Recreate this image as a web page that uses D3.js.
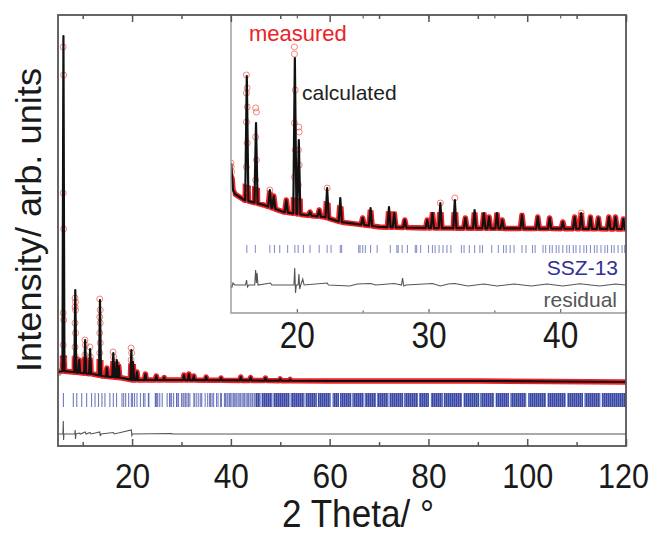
<!DOCTYPE html>
<html><head><meta charset="utf-8">
<script src="https://cdn.jsdelivr.net/npm/d3@7"></script>
<style>
html,body{margin:0;padding:0;background:#fff;}
svg{display:block;font-family:"Liberation Sans",Arial,sans-serif;}
</style></head><body>
<svg id="chart" width="657" height="534"></svg>
<script>
// ---------- DATA ----------
const mainTicksMajor = [20, 40, 60, 80, 100, 120];
const mainTicksMinor = [10, 30, 50, 70, 90, 110];
const insetTicksMajor = [20, 30, 40];
const insetTicksMinor = [25, 35, 45];

// main pattern (2theta, counts)
const mainBackground = [[5,1480],[6,1500],[8,1480],[10,1460],[12,1440],[14,1400],[16,1380],[18,1360],[20,1320],[30,1320],[60,1300],[90,1300],[120,1280]];
const mainCalcPeaks = [[6.1,8200],[8.5,3120],[9.3,1720],[10.5,2120],[11.5,1940],[13.5,2920],[14.9,1560],[16.2,1860],[16.9,1720],[17.3,1600],[19.85,1920],[20.2,1680],[21.0,1480],[22.7,1440],[24.9,1400],[26.5,1370],[30.5,1420],[31.5,1440],[32.5,1400],[35,1380],[38,1360],[42,1380],[44,1370],[47,1360],[50,1340],[52,1330]];
const mainObsPoints = [[5.0,1500],[5.05,1460],
  [6.05,7980],[6.15,7420],[6.05,5060],[6.15,4340],[6.05,2660],[6.15,2520],[6.05,2020],[6.15,1720],
  [8.45,2960],[8.55,2880],[8.45,2780],[8.55,2720],[8.45,2460],[8.55,2260],[8.45,1980],[8.55,1780],
  [10.45,2120],[10.55,2020],[10.45,1820],[11.45,1980],[11.55,1780],
  [13.45,2940],[13.55,2720],[13.45,2580],[13.55,2460],[13.45,2260],[13.55,2060],[13.45,1860],
  [16.15,1880],[16.25,1780],[19.8,1960],[19.9,1860],[19.8,1720]];
const mainResidual = [[5,0],[6.0,0],[6.07,260],[6.13,-120],[6.2,0],[8.4,0],[8.47,80],[8.55,-100],[8.65,0],[9.3,20],[9.5,0],[10.5,40],[10.7,0],[11.5,30],[11.7,0],[13.45,40],[13.55,-40],[13.7,0],[16.2,30],[16.4,0],[19.85,80],[19.95,-30],[20.1,0],[28,10],[28.2,0],[120,0]];
const mainBraggLow = [6.1,8.1,8.8,9.8,10.8,11.8,12.5,13.2,13.9,14.5,15.5];
const braggPositions = [16.2,16.85,17.95,18.3,18.7,19.3,19.85,20.1,20.5,21.0,21.7,22.3,22.6,23.3,23.4,24.7,24.8,25.0,25.2,25.6,26.1,27.1,27.6,27.7,28.0,28.4,29.0,29.1,29.4,30.0,30.3,30.5,30.8,31.1,31.4,31.7,32.5,32.7,33.1,33.5,33.9,34.1,34.8,35.3,35.7,35.9,36.2,36.5,37.1,37.4,37.9,38.1,38.7,38.9,39.2,39.4,39.7,39.9,40.2,40.5,40.7,41.0,41.2,41.5,41.8,42.0,42.3,42.6,42.8,43.1,43.4,43.6,43.9,44.1,44.4,44.7,44.9];
const mainBraggBands = [[45,46],[46.2,48.4],[48.6,51.9],[52.1,54.9],[55.1,57.4],[57.6,60.2],[60.6,61.9],[62.1,64.4],[64.6,66.9],[67.1,69.4],[69.6,71.9],[72.1,74.9],[75.1,77.9],[78.1,80.1],[80.5,82.9],[83.1,86.8],[87.1,90.3],[90.5,93.3],[93.6,96.3],[96.6,99.8],[100.2,103.8],[104.1,107.8],[108.1,111.3],[111.6,114.8],[115.1,120]];

// inset pattern (2theta, counts)
const insetBackground = [[15.0,1500],[15.15,1230],[15.3,1190],[16.0,1130],[17.5,1080],[19.0,1010],[20.6,980],[22.1,960],[23.3,910],[26.3,860],[30,850],[45,840]];
const insetCalcPeaks = [[16.2,2370],[16.9,1900],[17.95,1230],[18.25,1170],[19.2,1130],[19.85,2550],[20.15,1730],[21.0,1010],[21.7,1030],[22.3,1250],[23.3,1150],[25.0,950],[25.6,1050],[27.0,1060],[27.4,1000],[28.2,930],[29.9,930],[30.3,1000],[30.9,1100],[32.0,1130],[32.8,950],[33.5,1030],[34.2,1000],[34.6,960],[35.2,1000],[35.6,930],[37.1,980],[38.3,960],[39.2,950],[40.2,910],[41.1,960],[41.6,1000],[42.3,960],[42.9,950],[43.7,960],[44.2,960],[44.8,940]];
const insetObsPoints = [[15.0,1500],[15.02,1460],[15.04,1410],
  [16.17,2380],[16.23,2250],[16.17,2200],[16.23,2060],[16.17,1910],[16.23,1700],[16.17,1460],[16.23,1230],
  [16.87,2050],[16.93,2010],[16.87,1760],[16.93,1530],[16.87,1330],
  [19.82,2660],[19.82,2590],[19.88,2230],[19.82,1900],[19.88,1630],[19.82,1360],
  [20.15,1860],[20.18,1810],[20.12,1630],[20.18,1480],[20.12,1280],
  [22.3,1250],[17.95,1230],[30.9,1100],[32.0,1150],[41.6,1000]];
const insetResidual = [[15,0],[15.05,-30],[15.15,20],[15.3,0],[16.1,0],[16.18,50],[16.25,-20],[16.35,0],[16.8,0],[16.87,150],[16.93,20],[16.98,120],[17.05,0],[18.0,20],[18.1,0],[19.78,0],[19.84,170],[19.9,-80],[19.96,0],[20.1,0],[20.16,110],[20.22,-40],[20.3,0],[20.45,60],[20.55,0],[22.3,20],[22.4,0],[24.0,-10],[24.6,10],[25.6,15],[26.0,0],[27.4,15],[27.95,0],[28.03,70],[28.12,-10],[28.3,0],[30.3,15],[30.9,-10],[31.5,10],[32.0,15],[33.0,-10],[34.2,10],[35.2,-10],[36.5,10],[37.8,-10],[39.0,10],[40.2,-10],[41.5,12],[42.3,0],[43.0,-10],[44.2,10],[45,0]];

// ---------- LAYOUT ----------
const svg = d3.select('#chart');
const M = {l:58, r:626, t:15, b:446};
const N = {l:231, r:626, t:15, b:313};
const xM = d3.scaleLinear().domain([5,120]).range([M.l,M.r]);
const yM = d3.scaleLinear().domain([0,8620]).range([M.b,M.t]);
const xI = d3.scaleLinear().domain([15,45]).range([N.l,N.r]);
const yI = d3.scaleLinear().domain([0,2980]).range([N.b,N.t]);

const RED = '#ec2227', CIRC = '#ef6a5e', BLUE = '#3a49a5', CALC = '#111';
const NARROW = '"Liberation Sans Narrow","Liberation Sans",Arial,sans-serif';

function baseAt(base, t){
  const bx = base.map(d=>d[0]);
  const i = d3.bisectRight(bx, t);
  if (i<=0) return base[0][1];
  if (i>=base.length) return base[base.length-1][1];
  const a = base[i-1], b = base[i];
  return a[1] + (t-a[0])/(b[0]-a[0])*(b[1]-a[1]);
}
function profile(base, peaks, hw){
  let pts = base.filter(d => !peaks.some(p => Math.abs(d[0]-p[0]) < hw));
  peaks.forEach(p => {
    pts.push([p[0]-hw, baseAt(base,p[0]-hw)]);
    pts.push([p[0], p[1]]);
    pts.push([p[0]+hw, baseAt(base,p[0]+hw)]);
  });
  return pts.sort((a,b)=>a[0]-b[0]);
}

const defs = svg.append('defs');
const pat = defs.append('pattern').attr('id','stripes').attr('patternUnits','userSpaceOnUse')
  .attr('width',2).attr('height',20);
pat.append('rect').attr('width',2).attr('height',20).attr('fill','#7f89c6');
pat.append('rect').attr('width',1.3).attr('height',20).attr('fill',BLUE);

function drawPanel(g, x, y, box, base, peaks, hw, obs, resid, residLevel, braggs, braggY0, braggY1, bands, id, tickOpacity){
  defs.append('clipPath').attr('id','clip'+id).append('rect')
    .attr('x',box.l).attr('y',box.t).attr('width',box.r-box.l).attr('height',box.b-box.t);
  const inner = g.append('g').attr('clip-path','url(#clip'+id+')');
  inner.append('g').selectAll('line').data(braggs).join('line')
    .attr('x1',d=>x(d)).attr('x2',d=>x(d)).attr('y1',y(braggY0)).attr('y2',y(braggY1))
    .attr('stroke',BLUE).attr('stroke-width',1.1).attr('stroke-opacity',tickOpacity);
  if (bands) inner.append('g').selectAll('rect').data(bands).join('rect')
    .attr('x',d=>x(d[0])).attr('width',d=>x(d[1])-x(d[0])).attr('y',y(braggY0)).attr('height',y(braggY1)-y(braggY0))
    .attr('fill','url(#stripes)');
  inner.append('path').datum(resid)
    .attr('d', d3.line().x(d=>x(d[0])).y(d=>y(residLevel+d[1])))
    .attr('fill','none').attr('stroke','#555').attr('stroke-width',1.1);
  const pts = profile(base, peaks, hw);
  defs.append('clipPath').attr('id','band'+id).append('path')
    .attr('d', d3.area().x(d=>x(d[0])).y0(d=>y(d[1])+8).y1(d=>y(d[1])-16)(base));
  inner.append('g').attr('clip-path','url(#band'+id+')').append('path').datum(pts)
    .attr('d', d3.line().x(d=>x(d[0])).y(d=>y(d[1])))
    .attr('fill','none').attr('stroke',RED).attr('stroke-width',5.5).attr('stroke-linejoin','round');
  inner.append('g').selectAll('circle').data(obs).join('circle')
    .attr('cx',d=>x(d[0])).attr('cy',d=>y(d[1])).attr('r',3)
    .attr('fill','none').attr('stroke',CIRC).attr('stroke-width',1).attr('stroke-opacity',0.8);
  inner.append('path').datum(pts)
    .attr('d', d3.line().x(d=>x(d[0])).y(d=>y(d[1])))
    .attr('fill','none').attr('stroke',CALC).attr('stroke-width',2.2).attr('stroke-linejoin','round');
}

// ---------- MAIN ----------
const gMain = svg.append('g');
gMain.append('rect').attr('x',M.l).attr('y',M.t).attr('width',M.r-M.l).attr('height',M.b-M.t).attr('fill','#fff');
drawPanel(gMain, xM, yM, M, mainBackground, mainCalcPeaks, 0.2, mainObsPoints, mainResidual, 240,
  mainBraggLow.concat(braggPositions), 1060, 780, mainBraggBands, 'm', 0.72);

// ---------- INSET ----------
const gIn = svg.append('g');
gIn.append('rect').attr('x',N.l).attr('y',N.t).attr('width',N.r-N.l).attr('height',N.b-N.t).attr('fill','#fff');
drawPanel(gIn, xI, yI, N, insetBackground, insetCalcPeaks, 0.12, insetObsPoints, insetResidual, 280,
  braggPositions, 680, 600, null, 'i', 0.6);

const inAxB = gIn.append('g').attr('transform',`translate(0,${N.b})`)
  .call(d3.axisBottom(xI).tickValues(insetTicksMajor).tickSize(-4).tickFormat(d3.format('d')));
const inAxBm = gIn.append('g').attr('transform',`translate(0,${N.b})`)
  .call(d3.axisBottom(xI).tickValues(insetTicksMinor).tickSize(-2.5).tickFormat(''));
const inAxT = gIn.append('g').attr('transform',`translate(0,${N.t})`)
  .call(d3.axisTop(xI).tickValues(insetTicksMajor.concat(insetTicksMinor)).tickSize(-3.5).tickFormat(''));
[inAxB,inAxBm,inAxT].forEach(a=>{a.select('.domain').remove(); a.selectAll('line').attr('stroke','#666').attr('stroke-width',1.2);});
gIn.append('path').attr('d',`M${N.l},${N.t}V${N.b}H${N.r}`).attr('fill','none').attr('stroke','#9a9a9a').attr('stroke-width',1.4);

gIn.append('text').attr('x',249).attr('y',41).attr('fill',RED).attr('font-size',22).text('measured');
gIn.append('text').attr('x',302).attr('y',100).attr('fill','#222').attr('font-size',21).text('calculated');
gIn.append('text').attr('x',618).attr('y',275).attr('text-anchor','end').attr('fill','#2e3192').attr('font-size',21).text('SSZ-13');
gIn.append('text').attr('x',617).attr('y',307).attr('text-anchor','end').attr('fill','#555').attr('font-size',21).text('residual');

// ---------- MAIN AXES ----------
const axB = svg.append('g').attr('transform',`translate(0,${M.b})`)
  .call(d3.axisBottom(xM).tickValues(mainTicksMajor).tickSize(-7).tickFormat(d3.format('d')));
const axBm = svg.append('g').attr('transform',`translate(0,${M.b})`)
  .call(d3.axisBottom(xM).tickValues(mainTicksMinor).tickSize(-4).tickFormat(''));
const axT = svg.append('g').attr('transform',`translate(0,${M.t})`)
  .call(d3.axisTop(xM).tickValues(mainTicksMajor).tickSize(-7).tickFormat(''));
const axTm = svg.append('g').attr('transform',`translate(0,${M.t})`)
  .call(d3.axisTop(xM).tickValues(mainTicksMinor).tickSize(-4).tickFormat(''));
[axB,axBm,axT,axTm].forEach(a=>{a.select('.domain').remove(); a.selectAll('line').attr('stroke','#555').attr('stroke-width',1.5);});
svg.append('rect').attr('x',M.l).attr('y',M.t).attr('width',M.r-M.l).attr('height',M.b-M.t)
  .attr('fill','none').attr('stroke','#555').attr('stroke-width',1.8);

function styleTickText(sel, y, fs){
  sel.selectAll('text')
    .attr('y', y).attr('dy', null)
    .attr('font-family', NARROW)
    .attr('font-size', fs).attr('fill','#1a1a1a')
    .attr('textLength', function(){ return this.textContent.length*(this.textContent.length>2?17:17.6); })
    .attr('lengthAdjust','spacingAndGlyphs');
}
styleTickText(axB, 42, 35);
styleTickText(inAxB, 35, 36);
axB.selectAll('text').filter(d => d === 120).attr('x', -3);

svg.append('text').attr('x',358).attr('y',527).attr('text-anchor','middle')
  .attr('font-family', NARROW)
  .attr('font-size',39).attr('fill','#1a1a1a')
  .attr('textLength',152).attr('lengthAdjust','spacingAndGlyphs').text('2 Theta/ °');
svg.append('text').attr('transform','translate(41,220) rotate(-90)').attr('text-anchor','middle')
  .attr('font-size',35).attr('fill','#1a1a1a')
  .attr('textLength',304).attr('lengthAdjust','spacingAndGlyphs').text('Intensity/ arb. units');
</script></body></html>
